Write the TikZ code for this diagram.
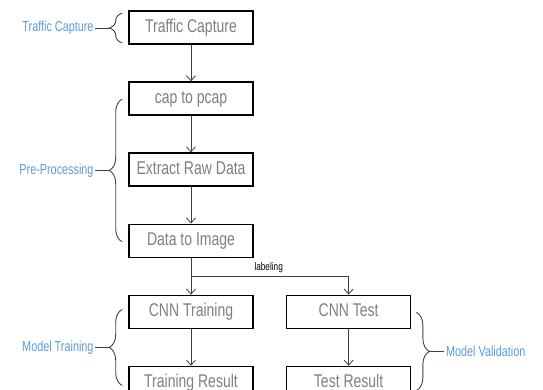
\documentclass[tikz,border=0pt]{standalone}
\usepackage{fontspec}
\setmainfont{Liberation Sans}
\newfontfamily\narrowfont[FakeStretch=0.76]{Liberation Sans}
\newfontfamily\stagefont[FakeStretch=0.75]{Liberation Sans}
\usepackage{tikz}
\usetikzlibrary{arrows.meta, calc, positioning, decorations.pathreplacing}
\definecolor{boxgray}{HTML}{7F7F7F}
\definecolor{stageblue}{HTML}{5B9BD5}
\definecolor{linegray}{HTML}{404040}
\tikzset{>={Straight Barb[length=5bp,width=9bp]}}

\begin{document}
\begin{tikzpicture}[x=1bp,y=1bp,
        stepbox/.style={draw=black, line width=1.6bp, minimum width=124bp, minimum height=33bp, inner sep=0pt,
                text height=13bp, text depth=3.5bp, text=boxgray, font=\narrowfont\fontsize{18.5}{19}\selectfont},
        stage/.style={text=stageblue, inner sep=1.5bp, font=\stagefont\fontsize{14.5}{15}\selectfont},
        flow/.style={->, draw=linegray, line width=0.8bp},
        brc/.style={draw=linegray, line width=0.9bp, decorate, decoration={brace, amplitude=13bp}},
        node distance=36.5bp]
        \useasboundingbox (0,0) rectangle (543,-389);
        % main flow
        \node[stepbox] (tc) at (191,-27.5) {Traffic Capture};
        \node[stepbox, below=of tc] (cap) {cap to pcap};
        \node[stepbox, below=of cap] (erd) {Extract Raw Data};
        \node[stepbox, below=of erd] (di) {Data to Image};
        \node[stepbox, below=of di] (cnntr) {CNN Training};
        \node[stepbox, below=of cnntr] (trres) {Training Result};
        \node[stepbox, right=32bp of cnntr] (cnnte) {CNN Test};
        \node[stepbox, below=of cnnte] (teres) {Test Result};
        \draw[flow] (tc) -- (cap);
        \draw[flow] (cap) -- (erd);
        \draw[flow] (erd) -- (di);
        \draw[flow] (di) -- (cnntr);
        \draw[flow] (di.south) ++(0,-18.5) coordinate (fork) -| (cnnte.north);
        \draw[flow] (cnntr) -- (trres);
        \draw[flow] (cnnte) -- (teres);
        \node[anchor=base west, inner sep=0pt, font=\stagefont\fontsize{11}{12}\selectfont]
                (lab) at ($(di.south east)+(0.5,-12.5)$) {labeling};
        % stages
        \coordinate (b1) at ($(tc.south west)+(-6,2)$);
        \coordinate (t1) at ($(tc.north west)+(-6,-3)$);
        \coordinate (b2) at ($(di.west)+(-6,-1)$);
        \coordinate (t2) at ($(cap.west)+(-6,-0.5)$);
        \coordinate (b3) at ($(trres.west)+(-6,-2.5)$);
        \coordinate (t3) at ($(cnntr.west)+(-6,2.5)$);
        \coordinate (t4) at ($(cnnte.east)+(5,-0.5)$);
        \coordinate (b4) at ($(teres.east)+(5,-7.5)$);
        \draw[brc] (b1) -- (t1);
        \draw[brc] (b2) -- (t2);
        \draw[brc] (b3) -- (t3);
        \draw[brc] (t4) -- (b4);
        \coordinate (p1) at ($(b1)!0.5!(t1)+(-13,0)$);
        \coordinate (p2) at ($(b2)!0.5!(t2)+(-13,0)$);
        \coordinate (p3) at ($(b3)!0.5!(t3)+(-13,0)$);
        \coordinate (p4) at ($(t4)!0.5!(b4)+(13,0)$);
        \node[stage, anchor=east] (s1) at ($(p1)+(-14,0)$) {Traffic Capture};
        \node[stage, anchor=east] (s2) at ($(p2)+(-14,0)$) {Pre-Processing};
        \node[stage, anchor=east] (s3) at ($(p3)+(-14,0)$) {Model Training};
        \node[stage, anchor=west] (s4) at ($(p4)+(15,0)$) {Model Validation};
        \draw[draw=linegray, line width=0.9bp] (s1) -- (p1);
        \draw[draw=linegray, line width=0.9bp] (s2) -- (p2);
        \draw[draw=linegray, line width=0.9bp] (s3) -- (p3);
        \draw[draw=linegray, line width=0.9bp] (s4) -- (p4);
\end{tikzpicture}
\end{document}
